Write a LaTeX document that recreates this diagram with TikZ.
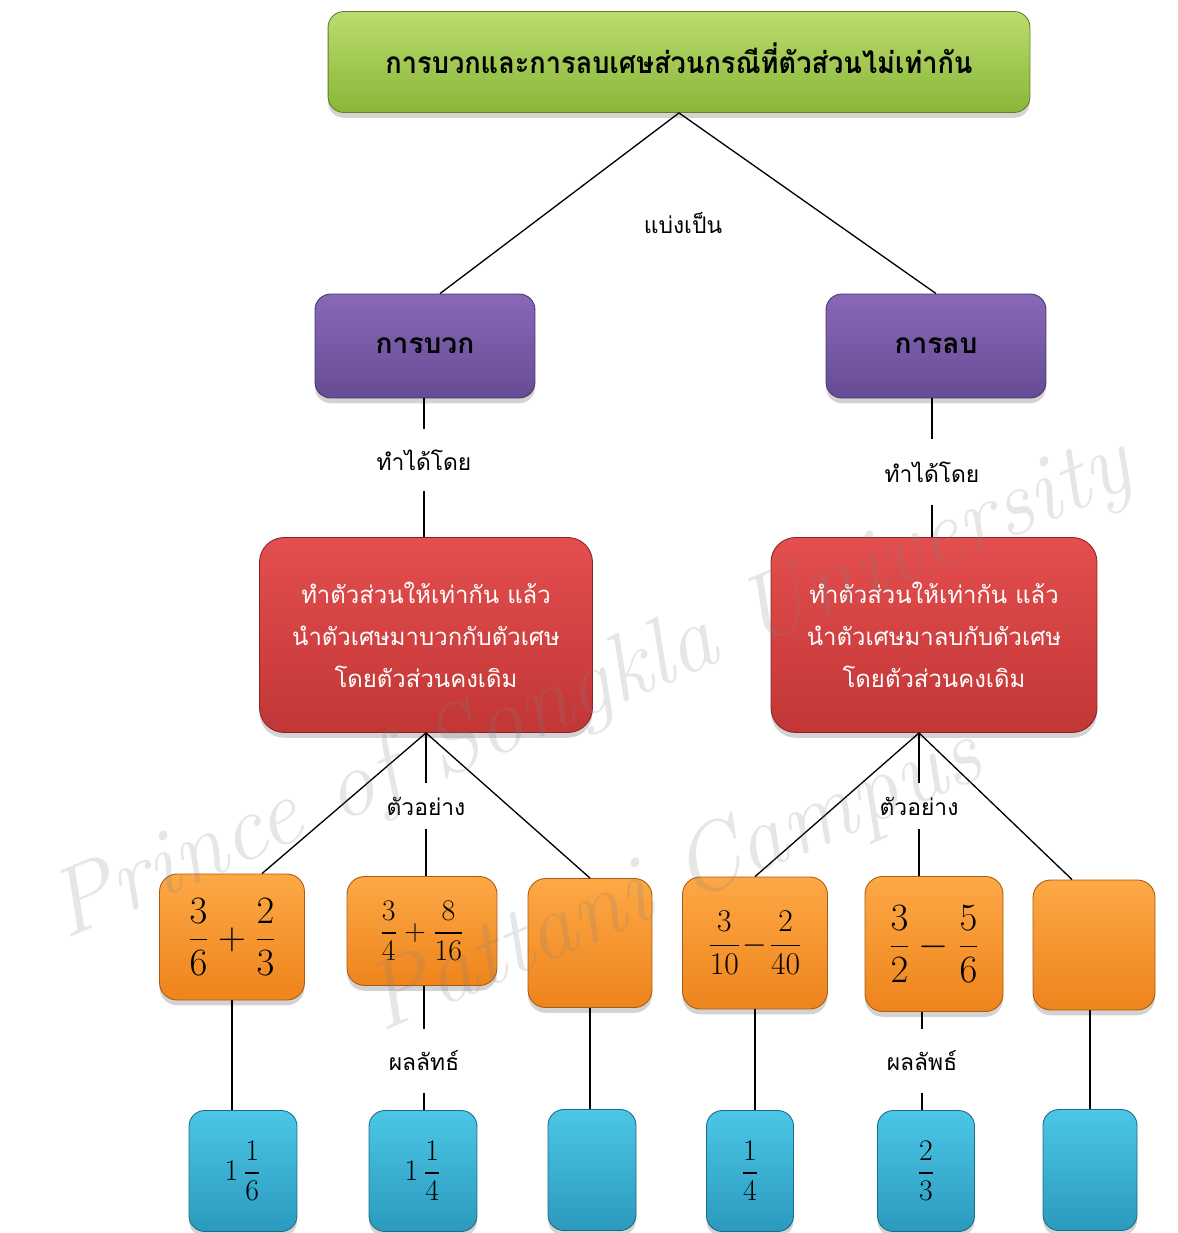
\RequirePackage{fix-cm}
\documentclass[tikz,border=0pt]{standalone}
\usepackage{amsmath}
\usepackage{fontspec}
\newfontfamily\thaifont[Script=Thai]{Loma}
\newfontfamily\thaititle[Script=Thai, FakeStretch=0.91]{Loma}
\usetikzlibrary{shadows}
\definecolor{titletop}{RGB}{186,220,110}
\definecolor{titlebot}{RGB}{138,182,56}
\definecolor{kindtop}{RGB}{136,104,184}
\definecolor{kindbot}{RGB}{102,76,148}
\definecolor{ruletop}{RGB}{228,78,78}
\definecolor{rulebot}{RGB}{194,54,54}
\definecolor{extop}{RGB}{253,168,70}
\definecolor{exbot}{RGB}{238,132,28}
\definecolor{anstop}{RGB}{76,198,230}
\definecolor{ansbot}{RGB}{42,154,190}

\begin{document}
\begin{tikzpicture}[x=0.02cm, y=-0.02cm, line width=0.75pt,
	every node/.style={font=\thaifont\fontsize{13}{16}\selectfont},
	glossy/.style={draw=#1bot!70!black, line width=0.5pt, top color=#1top, bottom color=#1bot, drop shadow={opacity=0.35, shadow xshift=0pt, shadow yshift=-3pt}, rounded corners=9pt, inner sep=0pt, align=center},
	titlebox/.style={glossy=title, minimum width=14.04cm, minimum height=2.02cm, font=\thaititle\bfseries\fontsize{17}{20}\selectfont},
	kindbox/.style={glossy=kind, minimum width=4.4cm, minimum height=2.08cm, font=\thaifont\bfseries\fontsize{16}{20}\selectfont},
	rulebox/.style={glossy=rule, rounded corners=14pt, minimum height=3.9cm, text=white, font=\thaifont\fontsize{13.6}{24}\selectfont},
	exbox/.style={glossy=ex, rounded corners=10pt, font=\fontsize{22}{26}\selectfont},
	ansbox/.style={glossy=ans, rounded corners=9pt, minimum height=2.42cm, font=\fontsize{17}{21}\selectfont},
	lbl/.style={inner sep=0pt},
	wmark/.style={font=\itshape\fontsize{54}{54}\selectfont, text=gray, opacity=0.2}]
	\useasboundingbox (0,0) rectangle (1177,1233);
	\node[titlebox] (title) at (679,62) {\raisebox{4pt}{การบวกและการลบเศษส่วนกรณีที่ตัวส่วนไม่เท่ากัน}};
	\node (split) at (683,223) {แบ่งเป็น};
	\node[kindbox] (plus) at (425,346) {การบวก};
	\node[kindbox] (minus) at (936,346) {การลบ};
	\node[lbl, minimum height=1.2cm] (howA) at (424,460) {ทำได้โดย};
	\node[lbl, minimum height=1.28cm] (howB) at (932,472) {ทำได้โดย};
	\node[rulebox, minimum width=6.66cm] (ruleA) at (426,635) {ทำตัวส่วนให้เท่ากัน แล้ว\\นำตัวเศษมาบวกกับตัวเศษ\\โดยตัวส่วนคงเดิม};
	\node[rulebox, minimum width=6.52cm] (ruleB) at (934,635) {ทำตัวส่วนให้เท่ากัน แล้ว\\นำตัวเศษมาลบกับตัวเศษ\\โดยตัวส่วนคงเดิม};
	\node[lbl, minimum height=0.9cm] (exA) at (426,806) {ตัวอย่าง};
	\node[lbl, minimum height=0.9cm] (exB) at (919,806) {ตัวอย่าง};
	\node[exbox, minimum width=2.9cm, minimum height=2.52cm] (ex1) at (232,937) {$\dfrac{3}{6}+\dfrac{2}{3}$};
	\node[exbox, minimum width=3cm, minimum height=2.18cm, font=\fontsize{17}{20}\selectfont] (ex2) at (422,931) {$\dfrac{3}{4}+\dfrac{8}{16}$};
	\node[exbox, minimum width=2.48cm, minimum height=2.58cm] (ex3) at (590,943) {};
	\node[exbox, minimum width=2.9cm, minimum height=2.64cm, font=\fontsize{18}{22}\selectfont] (ex4) at (755,943) {$\dfrac{3}{10}\!-\!\dfrac{2}{40}$};
	\node[exbox, minimum width=2.76cm, minimum height=2.7cm] (ex5) at (934,944) {$\dfrac{3}{2}-\dfrac{5}{6}$};
	\node[exbox, minimum width=2.44cm, minimum height=2.6cm] (ex6) at (1094,945) {};
	\node[lbl, minimum height=1.24cm] (resA) at (424,1061) {ผลลัทธ์};
	\node[lbl, minimum height=1.24cm] (resB) at (922,1061) {ผลลัพธ์};
	\node[ansbox, minimum width=2.16cm] (ans1) at (243,1171) {$1\,\dfrac{1}{6}$};
	\node[ansbox, minimum width=2.16cm] (ans2) at (423,1171) {$1\,\dfrac{1}{4}$};
	\node[ansbox, minimum width=1.76cm] (ans3) at (592,1170) {};
	\node[ansbox, minimum width=1.74cm] (ans4) at (750,1171) {$\dfrac{1}{4}$};
	\node[ansbox, minimum width=1.94cm] (ans5) at (926,1171) {$\dfrac{2}{3}$};
	\node[ansbox, minimum width=1.88cm] (ans6) at (1090,1170) {};
	\draw (title.south) -- ([xshift=0.3cm]plus.north);
	\draw (title.south) -- (minus.north);
	\draw (howA.north |- plus.south) -- (howA.north) (howA.south) -- (howA.south |- ruleA.north);
	\draw (howB.north |- minus.south) -- (howB.north) (howB.south) -- (howB.south |- ruleB.north);
	\draw (ruleA.south) -- (exA.north) (exA.south) -- (exA.south |- ex2.north);
	\draw (ruleA.south) -- ([xshift=0.6cm]ex1.north);
	\draw (ruleA.south) -- (ex3.north);
	\draw (ruleB.south -| exB) -- (exB.north) (exB.south) -- (exB.south |- ex5.north);
	\draw (ruleB.south -| exB) -- (ex4.north);
	\draw (ruleB.south -| exB) -- ([xshift=-0.44cm]ex6.north);
	\draw (ex1.south) -- (ex1.south |- ans1.north);
	\draw (ex2.south -| resA) -- (resA.north) (resA.south) -- (resA.south |- ans2.north);
	\draw (ex3.south) -- (ex3.south |- ans3.north);
	\draw (ex4.south) -- (ex4.south |- ans4.north);
	\draw (ex5.south -| resB) -- (resB.north) (resB.south) -- (resB.south |- ans5.north);
	\draw (ans6.north |- ex6.south) -- (ans6.north);
	\node[wmark, rotate=23] (wm1) at (592,690) {Prince of Songkla University};
	\node[wmark, rotate=23] (wm2) at (675,882) {Pattani Campus};
\end{tikzpicture}
\end{document}
